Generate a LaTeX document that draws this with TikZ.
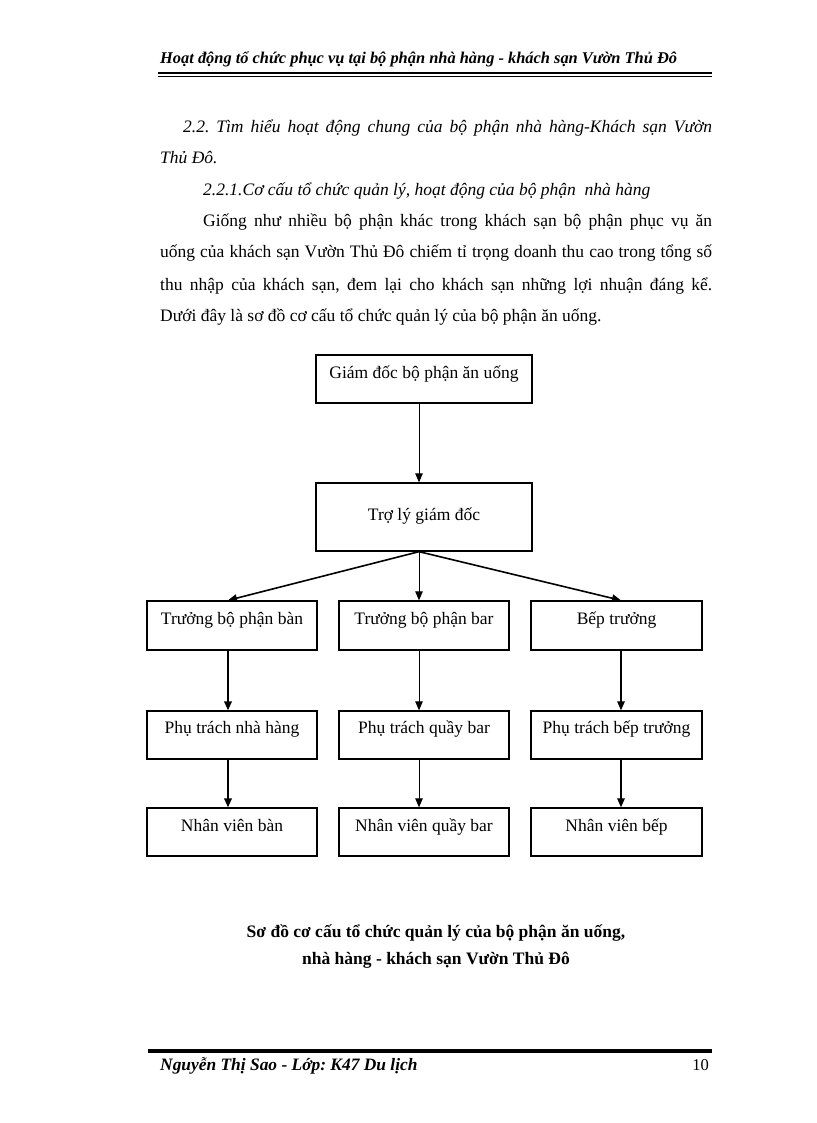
\documentclass[tikz,border=0pt]{standalone}
\usepackage{fontspec}
\setmainfont{Liberation Serif}
\usetikzlibrary{arrows.meta}
\frenchspacing
\begin{document}
\begin{tikzpicture}[x=1pt,y=-1pt,
  box/.style={draw,line width=1.3pt,inner sep=0pt,minimum width=#1,font=\fontsize{17.5}{20}\selectfont,anchor=base},
  arr/.style={line width=#1,-{Triangle[length=9pt,width=7.5pt]}},
  body/.style={anchor=base west,inner sep=0pt,font=\fontsize{17.5}{20}\selectfont\frenchspacing},
  bodyit/.style={anchor=base west,inner sep=0pt,font=\fontsize{17.5}{20}\selectfont\itshape\frenchspacing},
  headtxt/.style={anchor=base west,inner sep=0pt,font=\fontsize{16.4}{19}\selectfont\bfseries\itshape},
  foottxt/.style={anchor=base west,inner sep=0pt,font=\fontsize{17.4}{20}\selectfont\bfseries\itshape},
  caption/.style={anchor=base,inner sep=0pt,font=\fontsize{17.5}{20}\selectfont\bfseries}]
\useasboundingbox (0,0) rectangle (816,1123);
\fill[white] (0,0) rectangle (816,1123);
% header
\node[headtxt] (hdr) at (160,64) {Hoạt động tổ chức phục vụ tại bộ phận nhà hàng - khách sạn Vườn Thủ Đô};
\draw[line width=2.5pt] (158,73.2) -- (712,73.2);
\draw[line width=1pt] (158,76.5) -- (712,76.5);
% body text
\node[bodyit] (l1) at (183,133) {\makebox[529pt][s]{2.2. Tìm hiểu hoạt động chung của bộ phận nhà hàng-Khách sạn Vườn}};
\node[bodyit] (l2) at (160,164) {Thủ Đô.};
\node[bodyit] (l3) at (203,196) {2.2.1.Cơ cấu tổ chức quản lý, hoạt động của bộ phận\ \ nhà hàng};
\node[body] (l4) at (203,227) {\makebox[509pt][s]{Giống như nhiều bộ phận khác trong khách sạn bộ phận phục vụ ăn}};
\node[body] (l5) at (160,258) {\makebox[552pt][s]{uống của khách sạn Vườn Thủ Đô chiếm tỉ trọng doanh thu cao trong tổng số}};
\node[body] (l6) at (160,290) {\makebox[552pt][s]{thu nhập của khách sạn, đem lại cho khách sạn những lợi nhuận đáng kể.}};
\node[body] (l7) at (160,321) {Dưới đây là sơ đồ cơ cấu tổ chức quản lý của bộ phận ăn uống.};
% chart
\coordinate (lx) at (228,0);
\coordinate (mx) at (419,0);
\coordinate (rx) at (621,0);
\node[box=216pt,text height=23pt,text depth=25pt] (b1) at (424,378) {Giám đốc bộ phận ăn uống};
\node[box=216pt,text height=37pt,text depth=31pt] (b2) at (424,520) {Trợ lý giám đốc};
\node[box=170pt,text height=23pt,text depth=26pt] (t1) at (232,624) {Trưởng bộ phận bàn};
\node[box=170pt,text height=23pt,text depth=26pt] (t2) at (424,624) {Trưởng bộ phận bar};
\node[box=171pt,text height=23pt,text depth=26pt] (t3) at (616.5,624) {Bếp trưởng};
\node[box=170pt,text height=22pt,text depth=26pt] (p1) at (232,733) {Phụ trách nhà hàng};
\node[box=170pt,text height=22pt,text depth=26pt] (p2) at (424,733) {Phụ trách quầy bar};
\node[box=171pt,text height=22pt,text depth=26pt] (p3) at (616.5,733) {Phụ trách bếp trưởng};
\node[box=170pt,text height=23pt,text depth=25pt] (n1) at (232,831) {Nhân viên bàn};
\node[box=170pt,text height=23pt,text depth=25pt] (n2) at (424,831) {Nhân viên quầy bar};
\node[box=171pt,text height=23pt,text depth=25pt] (n3) at (616.5,831) {Nhân viên bếp};
\draw[arr=1pt] (b1.south -| mx) -- (b2.north -| mx);
\draw[arr=1.6pt] (b2.south -| mx) -- (t1.north -| lx);
\draw[arr=1pt] (b2.south -| mx) -- (t2.north -| mx);
\draw[arr=1.6pt] (b2.south -| mx) -- (t3.north -| rx);
\draw[arr=2pt] (t1.south -| lx) -- (p1.north -| lx);
\draw[arr=1pt] (t2.south -| mx) -- (p2.north -| mx);
\draw[arr=1.3pt] (t3.south -| rx) -- (p3.north -| rx);
\draw[arr=2pt] (p1.south -| lx) -- (n1.north -| lx);
\draw[arr=1pt] (p2.south -| mx) -- (n2.north -| mx);
\draw[arr=1.3pt] (p3.south -| rx) -- (n3.north -| rx);
% caption
\node[caption] (c1) at (436,937) {Sơ đồ cơ cấu tổ chức quản lý của bộ phận ăn uống,};
\node[caption] (c2) at (436,964) {nhà hàng - khách sạn Vườn Thủ Đô};
% footer
\draw[line width=4pt] (148,1051) -- (712,1051);
\node[foottxt] (ftr) at (160,1070) {Nguyễn Thị Sao - Lớp: K47 Du lịch};
\node[anchor=base east,inner sep=0pt,font=\fontsize{16.5}{18}\selectfont] (pg) at (709,1070) {10};
\end{tikzpicture}
\end{document}
